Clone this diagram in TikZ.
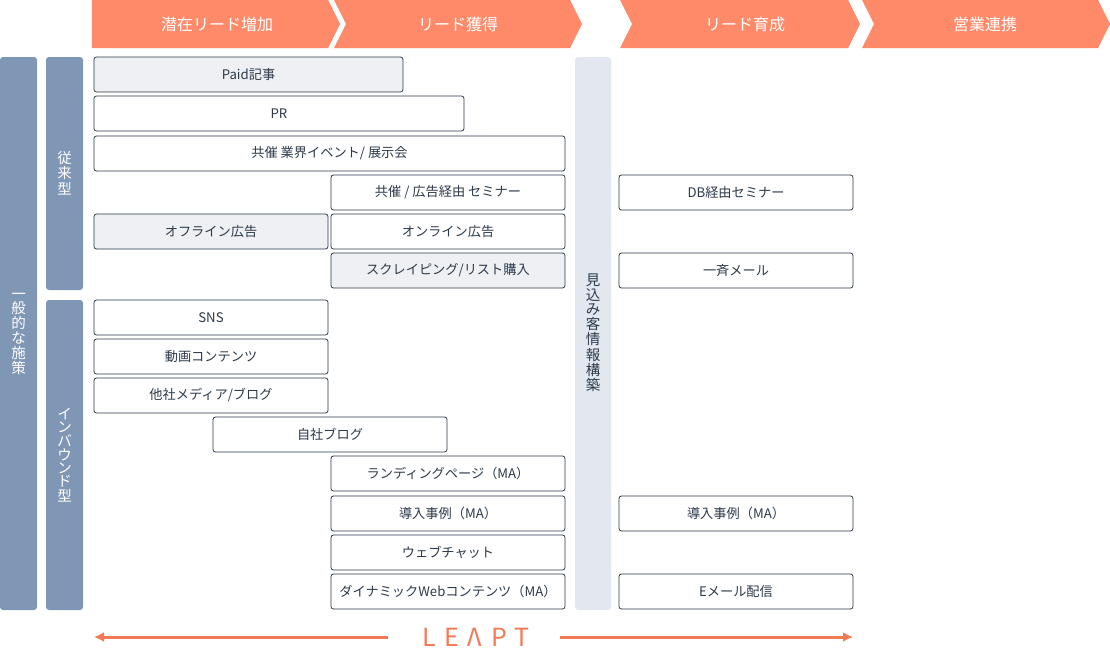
\documentclass[tikz,border=0pt]{standalone}
\usepackage{fontspec}
\usetikzlibrary{arrows.meta}
\setmainfont{Noto Sans CJK JP}
\definecolor{hdr}{HTML}{FF8A6A}
\definecolor{bar}{HTML}{7F97B5}
\definecolor{lbar}{HTML}{E3E8F0}
\definecolor{bd}{HTML}{2D3A4A}
\definecolor{gfill}{HTML}{EEF0F3}
\definecolor{arr}{HTML}{F47A55}
\newcommand{\vt}[1]{\def\vtsep{}\vtloop#1\relax}
\def\vtloop#1{\ifx#1\relax\else\vtsep\hbox to 1em{\hss#1\hss}\def\vtsep{\par\nointerlineskip\vskip2pt}\expandafter\vtloop\fi}
\begin{document}
\begin{tikzpicture}[x=1pt,y=-1pt,
  box/.style={draw=bd,line width=0.8pt,rounded corners=2.5pt,fill=white,font=\fontsize{13.2}{15}\selectfont,text=bd},
  gbox/.style={box,fill=gfill},
  vbar/.style={fill=bar,rounded corners=3pt},
  htxt/.style={text=white,font=\fontsize{16}{18}\selectfont},
  vtxt/.style={font=\fontsize{14.5}{16}\selectfont,align=center,inner sep=0pt}]
\useasboundingbox (0,0) rectangle (1110,659);
\fill[white] (0,0) rectangle (1110,659);
% header
\fill[hdr] (92,0) -- (328,0) -- (340,24) -- (328,48) -- (92,48) -- cycle;
\fill[hdr] (334,0) -- (570,0) -- (582,24) -- (570,48) -- (334,48) -- (346,24) -- cycle;
\fill[hdr] (620,0) -- (848,0) -- (860,24) -- (848,48) -- (620,48) -- (632,24) -- cycle;
\fill[hdr] (862,0) -- (1098,0) -- (1110,24) -- (1098,48) -- (862,48) -- (874,24) -- cycle;
\node[htxt] (h1) at (217,24) {潜在リード増加};
\node[htxt] (h2) at (458,24) {リード獲得};
\node[htxt] (h3) at (745,24) {リード育成};
\node[htxt] (h4) at (985,24) {営業連携};
% bars
\fill[vbar] (0,57) rectangle (37,610);
\fill[vbar] (46,57) rectangle (83,290);
\fill[vbar] (46,300) rectangle (83,610);
\fill[lbar,rounded corners=3pt] (575,57) rectangle (611,610);
\node[vtxt,text=white] (v1) at (18.5,334) {\vbox{\vt{一般的な施策}}};
\node[vtxt,text=white] (v2) at (64.5,173) {\vbox{\vt{従来型}}};
\node[vtxt,text=white] (v3) at (64.5,455) {\vbox{\vt{インバウンド型}}};
\node[vtxt,text=bd] (v4) at (593,333) {\vbox{\vt{見込み客情報構築}}};
% boxes
\newcommand{\bx}[6]{\node[#1,minimum width={#4-#2},minimum height={#5-#3},inner sep=0pt] (#6) at ({(#2+#4)/2},{(#3+#5)/2})}
\bx{gbox}{94}{57}{403}{92}{b1} {Paid記事};
\bx{box}{94}{96}{464}{131}{b2} {PR};
\bx{box}{94}{136}{565}{171}{b3} {共催 業界イベント/ 展示会};
\bx{box}{331}{175}{565}{210}{b4} {共催 / 広告経由 セミナー};
\bx{box}{619}{175}{853}{210}{b5} {DB経由セミナー};
\bx{gbox}{94}{214}{328}{249}{b6} {オフライン広告};
\bx{box}{331}{214}{565}{249}{b7} {オンライン広告};
\bx{gbox}{331}{253}{565}{288}{b8} {スクレイピング/リスト購入};
\bx{box}{619}{253}{853}{288}{b9} {一斉メール};
\bx{box}{94}{300}{328}{335}{b10} {SNS};
\bx{box}{94}{339}{328}{374}{b11} {動画コンテンツ};
\bx{box}{94}{378}{328}{413}{b12} {他社メディア/ブログ};
\bx{box}{213}{417}{447}{452}{b13} {自社ブログ};
\bx{box}{331}{456}{565}{491}{b14} {ランディングページ（MA）};
\bx{box}{331}{496}{565}{531}{b15} {導入事例（MA）};
\bx{box}{619}{496}{853}{531}{b16} {導入事例（MA）};
\bx{box}{331}{535}{565}{570}{b17} {ウェブチャット};
\bx{box}{331}{574}{565}{609}{b18} {ダイナミックWebコンテンツ（MA）};
\bx{box}{619}{574}{853}{609}{b19} {Eメール配信};
% bottom
\node[text=arr,font=\fontsize{25}{27}\selectfont\addfontfeature{LetterSpace=35}] (logo) at (476,637) {LEΛPT};
\coordinate (al) at (94,637);
\coordinate (ar) at (853,637);
\draw[arr,line width=3pt,-{Latex[length=10pt,width=10pt]}] (388,637) -- (al);
\draw[arr,line width=3pt,-{Latex[length=10pt,width=10pt]}] (560,637) -- (ar);
\end{tikzpicture}
\end{document}
